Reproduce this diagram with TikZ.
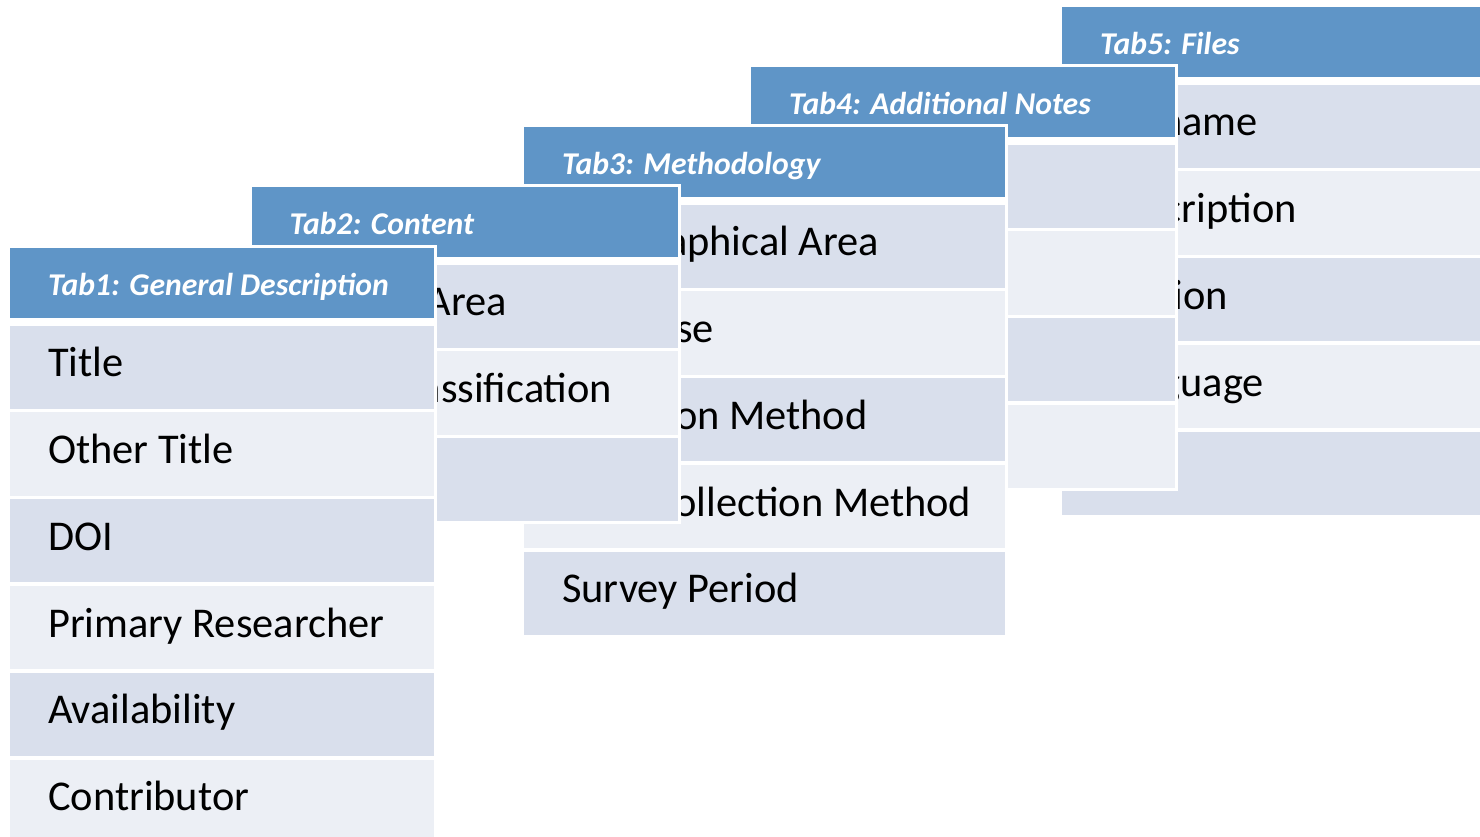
\documentclass[tikz,border=0pt]{standalone}
\usepackage{fontspec}
\setmainfont{Carlito}
\usepackage{xcolor}
\usepackage{tikz}
\usetikzlibrary{matrix}
\definecolor{headblue}{HTML}{5F95C7}
\definecolor{rowdark}{HTML}{D9DFEC}
\definecolor{rowlight}{HTML}{ECEFF5}
\newcommand{\headfont}{\fontsize{31.7}{38}\selectfont\bfseries\itshape}
\newcommand{\bodyfont}{\fontsize{42.4}{50}\selectfont}
\tikzset{tabcell/.style={inner xsep=0pt, inner ysep=0pt, text width=#1, align=left, execute at begin node={\leftskip=38pt\relax\spaceskip=0pt\relax\xspaceskip=0pt\relax}}}
\tikzset{tabmat/.style={anchor=north west, fill=white, inner sep=3pt, row sep=3.4pt, nodes={tabcell=#1}}}
\tikzset{headcell/.style={fill=headblue, text=white, font=\headfont, minimum height=70pt, text height=27pt, text depth=3pt}}
\tikzset{darkrow/.style={fill=rowdark, text=black, font=\bodyfont, minimum height=83.2pt, text height=29pt, text depth=10pt}}
\tikzset{lightrow/.style={darkrow, fill=rowlight}}

\begin{document}
\begin{tikzpicture}[x=1pt,y=-1pt]
\useasboundingbox (0,0) rectangle (1480,836);
% back to front, covered starts kept as phantoms
\matrix (tab5) [tabmat=481pt] at (1059,4)
{
\node [headcell] (h5) {Tab5: Files}; \\[3.6pt]
\node [darkrow] (f1) {\phantom{File}name}; \\
\node [lightrow] (f2) {\phantom{Des}cription}; \\
\node [darkrow] (f3) {\phantom{Vers}ion}; \\
\node [lightrow] (f4) {\phantom{Lan}guage}; \\
\node [darkrow] (f5) {}; \\
};
\matrix (tab4) [tabmat=424pt] at (748,64)
{
\node [headcell] (h4) {Tab4: Additional Notes}; \\[3.6pt]
\node [darkrow] (n1) {}; \\
\node [lightrow] (n2) {}; \\
\node [darkrow] (n3) {}; \\
\node [lightrow] (n4) {}; \\
};
\matrix (tab3) [tabmat=481pt] at (521,124)
{
\node [headcell] (h3) {Tab3: Methodology}; \\[3.6pt]
\node [darkrow] (m1) {\phantom{Geogr}aphical Area}; \\
\node [lightrow] (m2) {\phantom{Univer}se}; \\
\node [darkrow] (m3) {\phantom{Selecti}on Method}; \\
\node [lightrow] (m4) {\phantom{Data C}ollection Method}; \\
\node [darkrow] (m5) {Survey Period}; \\
};
\matrix (tab2) [tabmat=426pt] at (248.5,184)
{
\node [headcell] (h2) {Tab2: Content}; \\[3.6pt]
\node [darkrow] (c1) {\phantom{Subject }Area}; \\
\node [lightrow] (c2) {\phantom{Topic Cl}assification}; \\
\node [darkrow] (c3) {}; \\
};
\matrix (tab1) [tabmat=424pt] at (7,245)
{
\node [headcell] (h1) {Tab1: General Description}; \\[3.6pt]
\node [darkrow] (g1) {Title}; \\
\node [lightrow] (g2) {Other Title}; \\
\node [darkrow] (g3) {DOI}; \\
\node [lightrow] (g4) {Primary Researcher}; \\
\node [darkrow] (g5) {Availability}; \\
\node [lightrow] (g6) {Contributor}; \\
};
\end{tikzpicture}
\end{document}
